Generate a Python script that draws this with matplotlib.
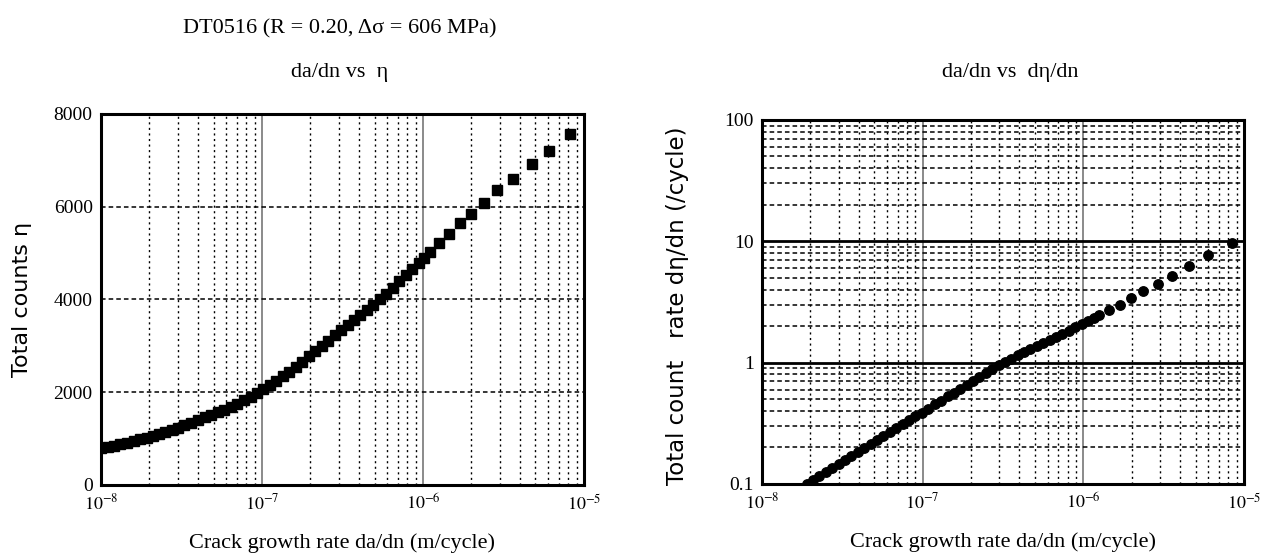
# %%
# Import area
import numpy as np
import matplotlib
matplotlib.use('Agg')
import matplotlib.pyplot as plt
from matplotlib.ticker import LogLocator, FixedLocator, NullFormatter

# %%
#     Section Zero: data

title_main = 'DT0516 (R = 0.20, Δσ = 606 MPa)'
title_left = 'da/dn vs  η'
title_right = 'da/dn vs  dη/dn'
xlabel = 'Crack growth rate da/dn (m/cycle)'
ylabel_left = 'Total counts η'
ylabel_right = 'Total count   rate dη/dn (/cycle)'

# left chart: crack growth rate (m/cycle) vs total counts
dadn_left = [1.00e-8, 1.10e-8, 1.20e-8, 1.32e-8, 1.45e-8, 1.60e-8, 1.75e-8, 1.92e-8,
             2.10e-8, 2.30e-8, 2.50e-8, 2.75e-8, 3.00e-8, 3.30e-8, 3.60e-8, 4.00e-8,
             4.40e-8, 4.80e-8, 5.30e-8, 5.80e-8, 6.40e-8, 7.00e-8, 7.70e-8, 8.50e-8,
             9.30e-8, 1.02e-7, 1.12e-7, 1.23e-7, 1.35e-7, 1.48e-7, 1.62e-7, 1.78e-7,
             1.95e-7, 2.14e-7, 2.35e-7, 2.58e-7, 2.83e-7, 3.10e-7, 3.40e-7, 3.73e-7,
             4.09e-7, 4.49e-7, 4.92e-7, 5.40e-7, 5.92e-7, 6.50e-7, 7.13e-7, 7.82e-7,
             8.58e-7, 9.41e-7, 1.02e-6, 1.10e-6, 1.26e-6, 1.46e-6, 1.70e-6, 2.00e-6,
             2.39e-6, 2.90e-6, 3.64e-6, 4.73e-6, 6.09e-6, 8.24e-6]
counts = [790, 818, 843, 877, 909, 943, 982, 1023,
          1062, 1102, 1138, 1187, 1232, 1285, 1338, 1403,
          1456, 1505, 1566, 1625, 1690, 1756, 1826, 1905,
          1980, 2060, 2153, 2247, 2345, 2446, 2548, 2660,
          2772, 2884, 2999, 3114, 3226, 3335, 3447, 3562,
          3674, 3782, 3890, 4003, 4119, 4253, 4394, 4535,
          4656, 4787, 4890, 5031, 5225, 5412, 5643, 5844,
          6074, 6361, 6598, 6915, 7209, 7568]

# right chart: crack growth rate (m/cycle) vs count rate (/cycle)
dadn_right = [1.90e-8, 2.08e-8, 2.28e-8, 2.50e-8, 2.74e-8, 3.00e-8, 3.29e-8, 3.60e-8,
              3.95e-8, 4.33e-8, 4.74e-8, 5.20e-8, 5.70e-8, 6.24e-8, 6.84e-8, 7.50e-8,
              8.22e-8, 9.00e-8, 9.87e-8, 1.08e-7, 1.19e-7, 1.30e-7, 1.43e-7, 1.56e-7,
              1.71e-7, 1.88e-7, 2.06e-7, 2.25e-7, 2.47e-7, 2.71e-7, 2.97e-7, 3.25e-7,
              3.56e-7, 3.90e-7, 4.28e-7, 4.69e-7, 5.14e-7, 5.63e-7, 6.17e-7, 6.77e-7,
              7.41e-7, 8.13e-7, 8.91e-7, 9.77e-7, 1.07e-6, 1.16e-6, 1.26e-6, 1.45e-6,
              1.69e-6, 1.98e-6, 2.36e-6, 2.90e-6, 3.56e-6, 4.55e-6, 6.00e-6, 8.46e-6]
count_rate = [0.100, 0.108, 0.116, 0.125, 0.135, 0.146, 0.157, 0.169,
              0.183, 0.197, 0.212, 0.229, 0.247, 0.266, 0.287, 0.310,
              0.334, 0.360, 0.388, 0.418, 0.453, 0.486, 0.526, 0.565,
              0.610, 0.659, 0.711, 0.764, 0.826, 0.891, 0.961, 1.02,
              1.08, 1.15, 1.22, 1.29, 1.37, 1.46, 1.54, 1.64,
              1.73, 1.84, 1.95, 2.07, 2.19, 2.32, 2.45, 2.74,
              3.01, 3.42, 3.88, 4.46, 5.22, 6.22, 7.77, 9.68]

x_ticks = [1e-8, 1e-7, 1e-6, 1e-5]
x_ticklabels = [r'$10^{-8}$', r'$10^{-7}$', r'$10^{-6}$', r'$10^{-5}$']
yticks_left = [0, 2000, 4000, 6000, 8000]
yticks_right = [0.1, 1, 10, 100]
yticklabels_right = ['0.1', '1', '10', '100']

# %%
#     Section A: figure

plt.rcParams['font.family'] = 'serif'
plt.rcParams['font.serif'] = ['Liberation Serif', 'DejaVu Serif']
plt.rcParams['mathtext.fontset'] = 'stix'

fig = plt.figure(figsize=(12.67, 5.59), dpi=100)
ax1 = fig.add_axes([0.0797, 0.1324, 0.3812, 0.6637])
ax2 = fig.add_axes([0.6014, 0.1342, 0.3804, 0.6512])

for ax in (ax1, ax2):
    ax.set_xscale('log')
    ax.set_xlim(1e-8, 1e-5)
    ax.set_xticks(x_ticks)
    ax.set_xticklabels(x_ticklabels, fontsize=13)
    ax.xaxis.set_minor_locator(LogLocator(base=10, subs=np.arange(2, 10)))
    ax.xaxis.set_minor_formatter(NullFormatter())
    ax.grid(True, which='major', axis='x', color='#777777', linestyle='-', linewidth=1.2)
    ax.grid(True, which='minor', axis='x', color='black', linestyle=(0, (1.5, 2.5)), linewidth=1.0)
    ax.tick_params(which='both', length=0, pad=6)
    for sp in ax.spines.values():
        sp.set_linewidth(2.2)
    ax.set_xlabel(xlabel, fontsize=16, labelpad=14)

# left chart
ax1.set_ylim(0, 8000)
ax1.set_yticks(yticks_left)
ax1.set_yticklabels([str(v) for v in yticks_left], fontsize=14)
ax1.grid(True, which='major', axis='y', color='black', linestyle=(0, (3, 2)), linewidth=1.1)
ax1.plot(dadn_left, counts, linestyle='none', marker='s', markersize=7,
         color='black', zorder=3)
ax1.set_ylabel(ylabel_left, fontsize=16, family='sans-serif')
ax1.yaxis.set_label_coords(-0.143, 0.5)

# right chart
ax2.set_yscale('log')
ax2.set_ylim(0.1, 100)
ax2.yaxis.set_major_locator(FixedLocator(yticks_right))
ax2.set_yticklabels(yticklabels_right, fontsize=14)
ax2.yaxis.set_minor_locator(LogLocator(base=10, subs=np.arange(2, 10)))
ax2.yaxis.set_minor_formatter(NullFormatter())
ax2.grid(True, which='major', axis='y', color='black', linestyle='-', linewidth=2.0)
ax2.grid(True, which='minor', axis='y', color='black', linestyle=(0, (3, 2)), linewidth=1.1)
ax2.plot(dadn_right, count_rate, linestyle='none', marker='o', markersize=6.8,
         color='black', zorder=3)
ax2.set_ylabel(ylabel_right, fontsize=16.5, family='sans-serif')
ax2.yaxis.set_label_coords(-0.151, 0.49)

# titles
fig.text(0.268, 0.948, title_main, ha='center', va='center', fontsize=16)
fig.text(0.268, 0.870, title_left, ha='center', va='center', fontsize=16)
fig.text(0.797, 0.870, title_right, ha='center', va='center', fontsize=16)

plt.savefig('out.png', dpi=100)
